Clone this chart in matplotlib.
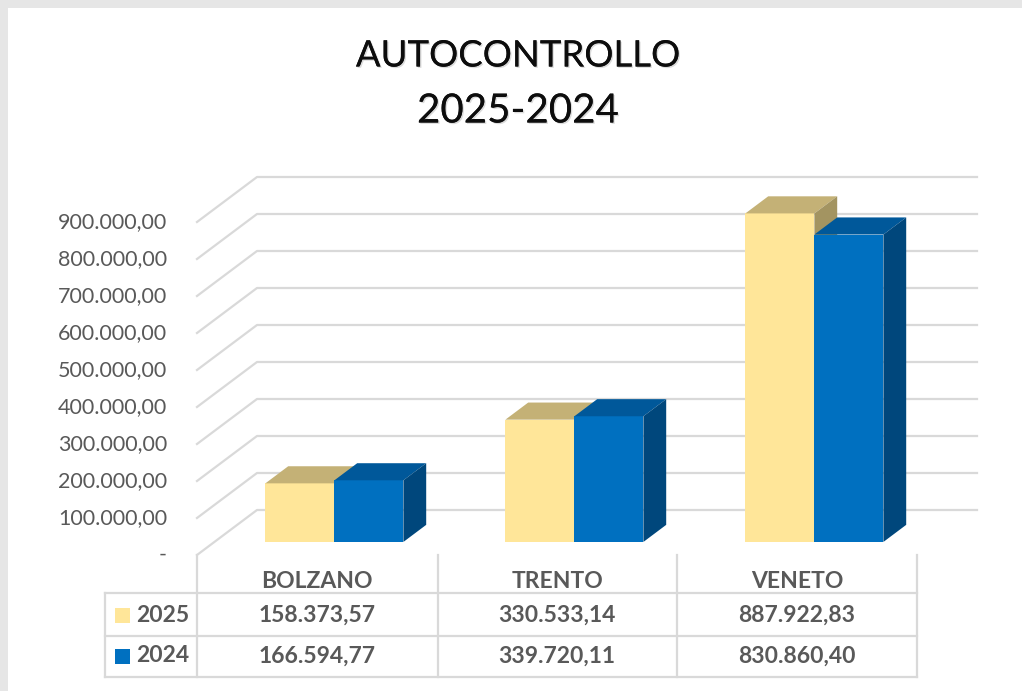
import numpy as np
import matplotlib.pyplot as plt
import matplotlib.patheffects as pe
from matplotlib.patches import Polygon, Rectangle
from matplotlib.lines import Line2D

plt.rcParams['font.family'] = ['Lato', 'DejaVu Sans']

categorie = ["BOLZANO", "TRENTO", "VENETO"]
anni = ["2025", "2024"]
valori_2025 = [158373.57, 330533.14, 887922.83]
valori_2024 = [166594.77, 339720.11, 830860.40]
tick_valori = np.arange(0, 900001, 100000)

col_fronte = ["#FFE699", "#0070C0"]
col_sopra = ["#C4B176", "#00589A"]
col_lato = ["#A39461", "#00477C"]
grigio = "#595959"
col_griglia = "#D9D9D9"

# pseudo 3D: profondita' espressa in unita' dati
DX = 0.25
DY = 121622
f0, f1 = 0.29, 0.67
w = 0.2875


def proj(x, v, d):
    return (x + d * DX, v + d * DY)


def fmt(v):
    s = f"{v:,.2f}"
    return s.replace(",", "X").replace(".", ",").replace("X", ".")


fig = plt.figure(figsize=(10.22, 6.91), dpi=100)
ax = fig.add_axes([0, 0, 1, 1])
ax.set_xlim(-1.3208, 2.9375)
ax.set_ylim(-367568, 1500000)
ax.axis("off")

# cornice grigia
fig.add_artist(Rectangle((0, 0), 8 / 1022, 1, transform=fig.transFigure, color="#E6E6E6", lw=0))
fig.add_artist(Rectangle((0, 1 - 8 / 691), 1, 8 / 691, transform=fig.transFigure, color="#E6E6E6", lw=0))

# griglia della parete di fondo
for t in tick_valori:
    p0 = proj(-0.5, t, 0)
    p1 = proj(-0.5, t, 1)
    p2 = proj(2.5, t, 1)
    ax.plot([p0[0], p1[0], p2[0]], [p0[1], p1[1], p2[1]], color=col_griglia, lw=1.6, zorder=1)
    ax.text(-0.625, t, fmt(t) if t > 0 else "-", ha="right", va="center",
            fontsize=15.5, color=grigio)

# barre
serie = [valori_2025, valori_2024]
for i in range(len(categorie)):
    for j in range(2):
        v = serie[j][i]
        xl = i - w + j * w
        xr = xl + w
        fx, fy = proj(xl, 0, f0)
        ax.bar(fx, v, width=w, bottom=fy, align="edge", color=col_fronte[j], lw=0, zorder=3)
        sopra = [proj(xl, v, f0), proj(xr, v, f0), proj(xr, v, f1), proj(xl, v, f1)]
        lato = [proj(xr, 0, f0), proj(xr, 0, f1), proj(xr, v, f1), proj(xr, v, f0)]
        ax.add_patch(Polygon(sopra, closed=True, color=col_sopra[j], lw=0, zorder=3))
        ax.add_patch(Polygon(lato, closed=True, color=col_lato[j], lw=0, zorder=3))

# titolo
ombra = [pe.withSimplePatchShadow(offset=(1, -1), shadow_rgbFace="#999999", alpha=0.35), pe.Normal()]
fig.text(518 / 1022, 1 - 56 / 691, "AUTOCONTROLLO", ha="center", va="center", fontsize=26.3,
         color="#0D0D0D", path_effects=ombra)
fig.text(518 / 1022, 1 - 111 / 691, "2025-2024", ha="center", va="center", fontsize=29,
         color="#0D0D0D", path_effects=ombra)


# tabella dati
def fy(py):
    return 1 - py / 691


def fx(px):
    return px / 1022


lc = dict(color=col_griglia, lw=1.6, transform=fig.transFigure)
for px in [197, 438, 677, 917]:
    fig.add_artist(Line2D([fx(px), fx(px)], [fy(555), fy(677)], **lc))
fig.add_artist(Line2D([fx(105), fx(105)], [fy(593), fy(677)], **lc))
for py in [593, 636, 677]:
    fig.add_artist(Line2D([fx(105), fx(917)], [fy(py)] * 2, **lc))

centri = [317, 557, 797]
for i, c in enumerate(categorie):
    fig.text(fx(centri[i]), fy(581), c, ha="center", va="center", fontsize=16.5,
             fontweight="bold", color=grigio)

righe_y = [615, 656]
for j in range(2):
    fig.add_artist(Rectangle((fx(115), fy(righe_y[j] + 8)), 15 / 1022, 15 / 691,
                             transform=fig.transFigure, color=col_fronte[j], lw=0))
    fig.text(fx(136), fy(righe_y[j]), anni[j], ha="left", va="center", fontsize=16.5,
             fontweight="bold", color=grigio)
    for i in range(len(categorie)):
        fig.text(fx(centri[i]), fy(righe_y[j]), fmt(serie[j][i]), ha="center", va="center",
                 fontsize=16.5, fontweight="bold", color=grigio)

plt.savefig("out.png", dpi=100)
plt.close()
